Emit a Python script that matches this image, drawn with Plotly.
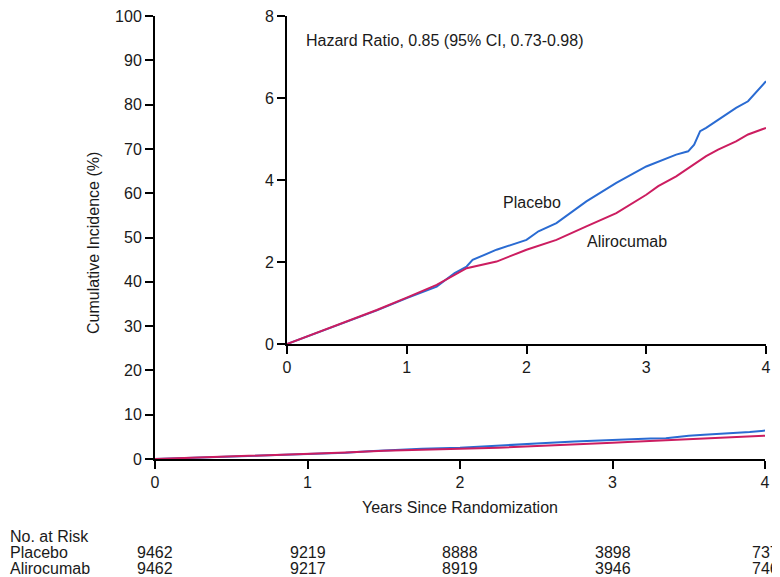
import plotly.graph_objects as go

# Data
years_placebo = [0, 0.25, 0.5, 0.75, 1.0, 1.25, 1.4, 1.5, 1.55, 1.75, 2.0, 2.1, 2.25, 2.4, 2.5, 2.75, 3.0, 3.25, 3.35, 3.4, 3.45, 3.5, 3.6, 3.75, 3.85, 3.9, 4.0]
placebo = [0, 0.27, 0.55, 0.82, 1.12, 1.40, 1.73, 1.89, 2.05, 2.30, 2.54, 2.75, 2.95, 3.27, 3.48, 3.93, 4.33, 4.62, 4.70, 4.86, 5.19, 5.27, 5.47, 5.76, 5.92, 6.08, 6.41]
years_aliro = [0, 0.25, 0.5, 0.75, 1.0, 1.25, 1.5, 1.75, 2.0, 2.25, 2.5, 2.75, 3.0, 3.1, 3.25, 3.5, 3.6, 3.75, 3.85, 4.0]
alirocumab = [0, 0.28, 0.55, 0.83, 1.13, 1.44, 1.85, 2.01, 2.30, 2.54, 2.87, 3.19, 3.64, 3.85, 4.09, 4.58, 4.74, 4.94, 5.11, 5.27]

risk_years = [0, 1, 2, 3, 4]
risk_placebo = ["9462", "9219", "8888", "3898", "737"]
risk_aliro = ["9462", "9217", "8919", "3946", "746"]

main_yticks = [0, 10, 20, 30, 40, 50, 60, 70, 80, 90, 100]
inset_yticks = [0, 2, 4, 6, 8]
xticks = [0, 1, 2, 3, 4]

BLUE = "#2a6bd2"
PINK = "#cc1d60"
FONT = "Liberation Sans, Arial, sans-serif"
TXT = "#1a1a1a"
FS = 16

# the page body has an 8px margin; the figure fills the rest of the 780x577 window
OFF = 8
W, H = 780 - OFF, 577 - OFF
def px(x):
    return (x - OFF) / W
def py(y):
    return (H - (y - OFF)) / H

fig = go.Figure()

# Main panel
fig.add_trace(go.Scatter(x=years_placebo, y=placebo, mode="lines",
                         line=dict(color=BLUE, width=2), xaxis="x", yaxis="y", showlegend=False))
fig.add_trace(go.Scatter(x=years_aliro, y=alirocumab, mode="lines",
                         line=dict(color=PINK, width=2), xaxis="x", yaxis="y", showlegend=False))
# Inset panel
fig.add_trace(go.Scatter(x=years_placebo, y=placebo, mode="lines",
                         line=dict(color=BLUE, width=2), xaxis="x2", yaxis="y2", showlegend=False))
fig.add_trace(go.Scatter(x=years_aliro, y=alirocumab, mode="lines",
                         line=dict(color=PINK, width=2), xaxis="x2", yaxis="y2", showlegend=False))

axis_common = dict(showgrid=False, zeroline=False, showline=True, linecolor="black", linewidth=2,
                   ticks="outside", ticklen=8, tickwidth=2, tickcolor="black", automargin=False,
                   ticklabeloverflow="allow",
                   tickfont=dict(family=FONT, size=FS, color=TXT))

fig.update_layout(
    template="none",
    width=W, height=H,
    margin=dict(l=0, r=0, t=0, b=0, pad=0),
    paper_bgcolor="white", plot_bgcolor="rgba(0,0,0,0)",
    font=dict(family=FONT, size=FS, color=TXT),
    xaxis=dict(domain=[px(155), px(765)], range=[0, 4], tickvals=xticks, anchor="y", **axis_common),
    yaxis=dict(domain=[py(459), py(16)], range=[0, 100], tickvals=main_yticks, anchor="x",
               **axis_common),
    xaxis2=dict(domain=[px(287), px(766)], range=[0, 4], tickvals=xticks, anchor="y2", **axis_common),
    yaxis2=dict(domain=[py(344), py(16)], range=[0, 8], tickvals=inset_yticks, anchor="x2", **axis_common),
)

def note(text, x, y, xref="paper", yref="paper", xanchor="center", **kw):
    return dict(text=text, x=x, y=y, xref=xref, yref=yref, xanchor=xanchor, yanchor="middle",
                showarrow=False, font=dict(size=FS), **kw)

ann = []
ann.append(note("Cumulative Incidence (%)", px(93), py(243), textangle=-90))
ann.append(note("Years Since Randomization", px(460), py(507)))
ann.append(note("Hazard Ratio, 0.85 (95% CI, 0.73-0.98)", px(304), py(40), xanchor="left"))
ann.append(note("Placebo", 2.05, 3.44, xref="x2", yref="y2"))
ann.append(note("Alirocumab", 2.84, 2.51, xref="x2", yref="y2"))

for label, yy in [("No. at Risk", 536), ("Placebo", 552), ("Alirocumab", 568)]:
    ann.append(note(label, px(8), py(yy), xanchor="left"))
for t, a, b in zip(risk_years, risk_placebo, risk_aliro):
    ann.append(note(a, t, py(552), xref="x"))
    ann.append(note(b, t, py(568), xref="x"))

fig.update_layout(annotations=ann)
fig.write_html("out.html")
